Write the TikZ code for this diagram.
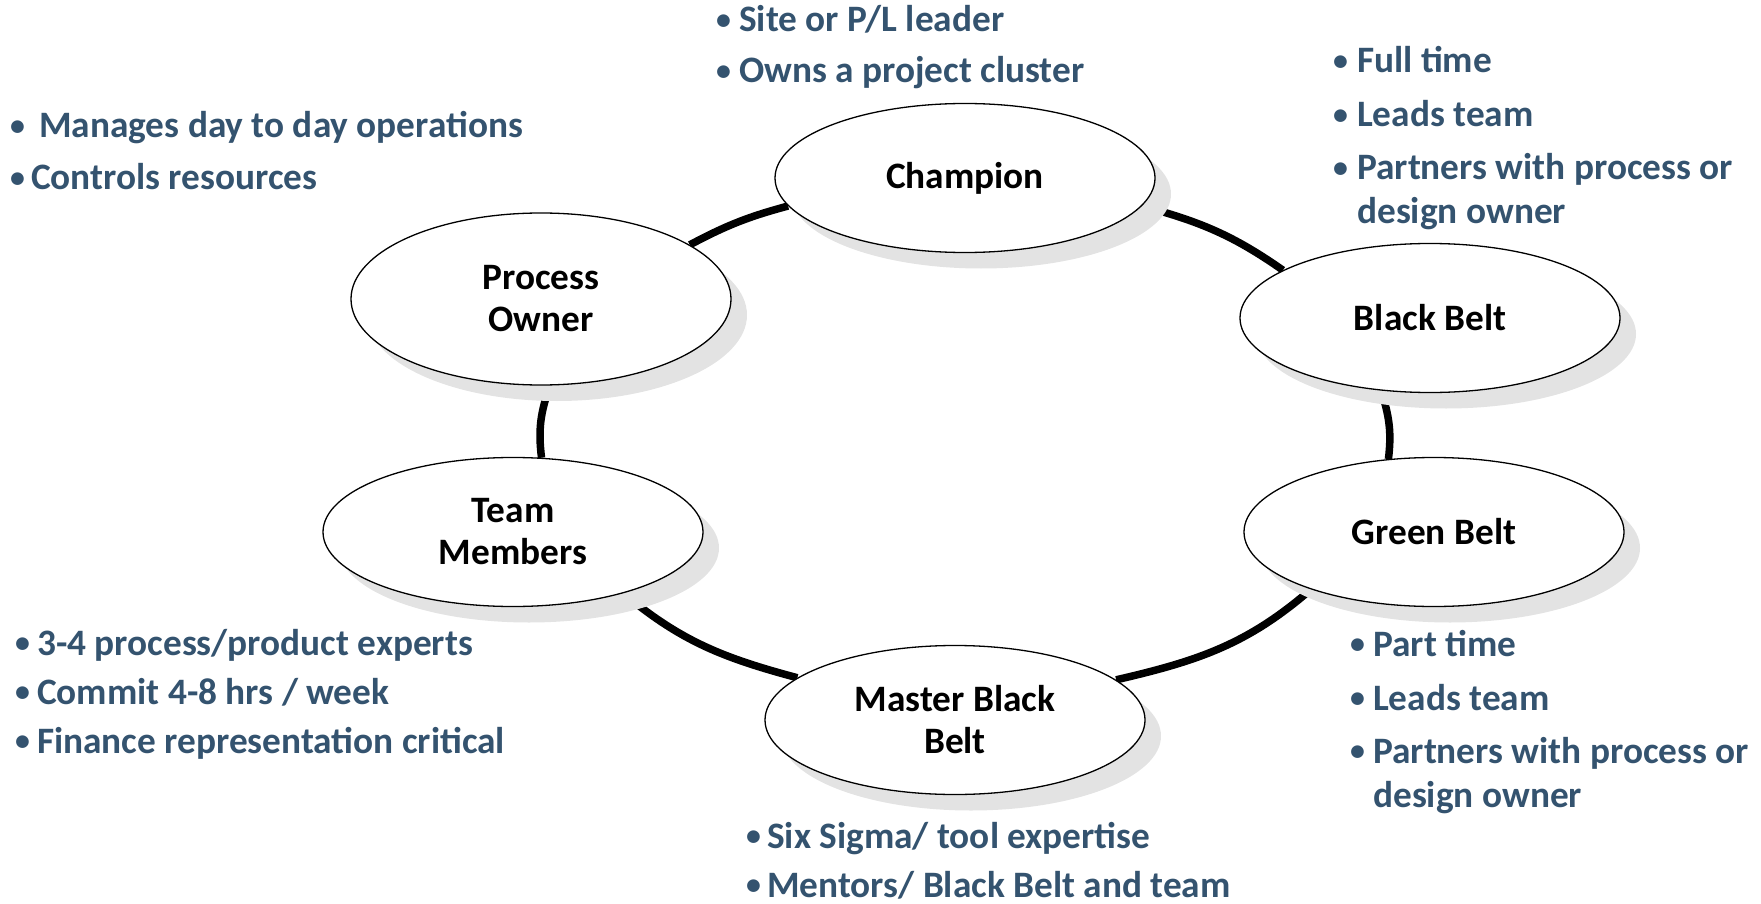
\documentclass[tikz,border=0pt]{standalone}
\usepackage{fontspec}
\setmainfont{Carlito}
\usetikzlibrary{shapes.geometric,shadows,backgrounds,positioning}

\definecolor{notecol}{RGB}{52,83,111}
\newcommand{\bul}[1]{\makebox[#1][l]{\raisebox{0.065em}{\scalebox{0.8}{\textbullet}}}}

\begin{document}
\begin{tikzpicture}[x=1pt,y=1pt]

  \tikzstyle{role} = [draw, ellipse, fill=white, minimum width=380pt, minimum height=149pt, inner sep=0pt, line width=1.3pt, align=center, font=\fontsize{37.3}{42}\selectfont\bfseries, drop shadow={shadow xshift=16pt, shadow yshift=-16pt, fill=black!11, opacity=1}]
  \tikzstyle{note} = [anchor=base west, inner sep=0pt, text=notecol, font=\fontsize{37.3}{43}\selectfont\bfseries]
  \tikzstyle{ring} = [line width=7.5pt, color=black]

  \useasboundingbox (0,0) rectangle (1761,-904);

  % roles
  \node[role] (champ) at (965,-178) {Champion};
  \node[role, minimum height=172pt] (proc) at (541,-299) {Process\\Owner};
  \node[role] (black) at (1430,-318) {Black Belt};
  \node[role] (team) at (513,-532) {Team\\Members};
  \node[role] (green) at (1434,-532) {Green Belt};
  \node[role] (master) at (955,-720) {Master Black\\Belt};

  % ring behind the shadows
  \begin{pgfonlayer}{background}
    \draw[ring] (champ.189) to[out=195, in=28] (proc.20);
    \draw[ring] (champ.-9) to[out=-15, in=145] (black.162);
    \draw[ring] (black.236) to[out=-72, in=83] (green.122);
    \draw[ring] (green.205) to[out=221, in=13] (master.14);
    \draw[ring] (master.165) to[out=165, in=-40] (team.-29);
    \draw[ring] (team.69) to[out=97, in=250] (proc.-84);
  \end{pgfonlayer}

  % champion notes
  \node[note] (champa) at (716,-32) {\bul{23pt}Site or P/L leader};
  \node[note] (champb) at (716,-83) {\bul{23pt}Owns a project cluster};

  % process owner notes
  \node[note] (proca) at (10,-138) {\bul{29pt}Manages day to day operations};
  \node[note] (procb) at (10,-190) {\bul{21pt}Controls resources};

  % black belt notes
  \node[note] (blacka) at (1333,-73) {\bul{24pt}Full time};
  \node[note] (blackb) at (1333,-127) {\bul{24pt}Leads team};
  \node[note] (blackc) at (1333,-180) {\bul{24pt}Partners with process or};
  \node[note] (blackd) at (1357,-223) {design owner};

  % green belt notes
  \node[note] (greena) at (1350,-656) {\bul{23pt}Part time};
  \node[note] (greenb) at (1350,-710) {\bul{23pt}Leads team};
  \node[note] (greenc) at (1350,-763) {\bul{23pt}Partners with process or};
  \node[note] (greend) at (1373,-807) {design owner};

  % team notes
  \node[note] (teama) at (15,-655) {\bul{22pt}3-4 process/product experts};
  \node[note] (teamb) at (15,-704) {\bul{22pt}Commit 4-8 hrs / week};
  \node[note] (teamc) at (15,-753) {\bul{22pt}Finance representation critical};

  % master black belt notes
  \node[note] (mastera) at (746,-848) {\bul{21pt}Six Sigma/ tool expertise};
  \node[note] (masterb) at (746,-897) {\bul{21pt}Mentors/ Black Belt and team};

\end{tikzpicture}
\end{document}
